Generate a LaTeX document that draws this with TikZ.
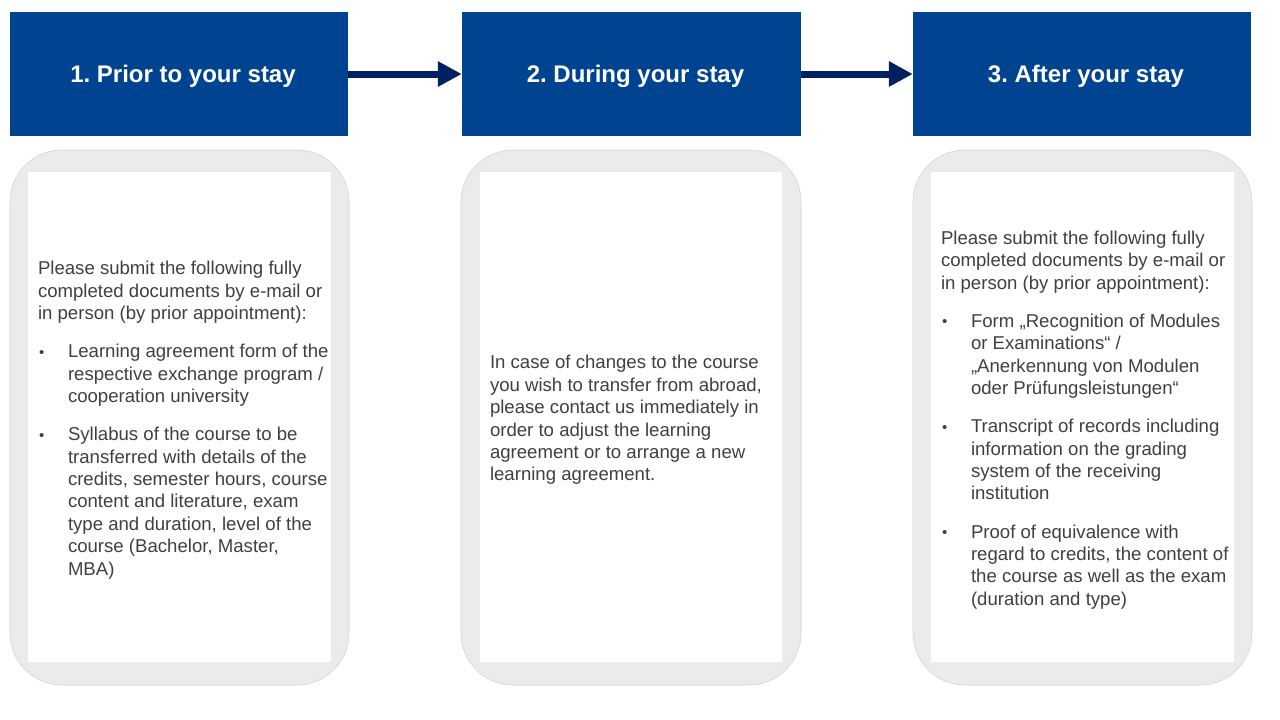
\documentclass[tikz,border=0pt]{standalone}
\usepackage{fontspec}
\setmainfont{Liberation Sans}
\usetikzlibrary{arrows.meta}
\definecolor{hdrblue}{RGB}{0,67,145}
\definecolor{navy}{RGB}{0,32,96}
\definecolor{panelgrey}{RGB}{237,235,233}
\definecolor{panelline}{RGB}{214,212,210}
\definecolor{bodygrey}{RGB}{64,64,64}
\frenchspacing
\newcommand{\bitem}[1]{{\hangindent=30pt\hangafter=1\noindent\makebox[30pt][l]{\hspace{1pt}\raisebox{0.5pt}{\fontsize{15}{15}\selectfont •}}#1\par}}
\newcommand{\pgap}{\vspace{15.8pt}}
\begin{document}
\begin{tikzpicture}[x=1pt,y=-1pt,
  hdr/.style={fill=hdrblue, inner sep=0, minimum height=124pt},
  hdrtext/.style={text=white, font=\fontsize{24}{28}\selectfont\bfseries, inner sep=0},
  panel/.style={fill=panelgrey, draw=panelline, line width=0.6pt, rounded corners=52pt, inner sep=0, minimum height=535pt},
  sheet/.style={fill=white, inner sep=0, minimum height=490pt},
  body/.style={anchor=west, inner sep=0, text=bodygrey, font=\fontsize{18.6}{22.4}\selectfont},
  flow/.style={draw=navy, line width=7pt, -{Triangle[length=24pt,width=24pt]}}]
\useasboundingbox[fill=white] (0,0) rectangle (1280,720);

% headers
\node[hdr, minimum width=338pt] (h1) at (179,74) {};
\node[hdr, minimum width=339pt] (h2) at (631.5,74) {};
\node[hdr, minimum width=338pt] (h3) at (1082,74) {};
\node[hdrtext] (l1) at ([xshift=4pt,yshift=-2pt]h1.center) {1. Prior to your stay};
\node[hdrtext] (l2) at ([xshift=4pt,yshift=-2pt]h2.center) {2. During your stay};
\node[hdrtext] (l3) at ([xshift=4pt,yshift=-2pt]h3.center) {3. After your stay};

\draw[flow] (h1.east) -- (h2.west);
\draw[flow] (h2.east) -- (h3.west);

% panels
\node[panel, minimum width=339pt] (p1) at (179.5,417.5) {};
\node[panel, minimum width=340pt] (p2) at (631,417.5) {};
\node[panel, minimum width=339pt] (p3) at (1082.5,417.5) {};

\node[sheet, minimum width=303pt] (s1) at (179.5,417) {};
\node[sheet, minimum width=302pt] (s2) at (631,417) {};
\node[sheet, minimum width=303pt] (s3) at (1082.5,417) {};

% texts
\node[body] (b1) at ([xshift=10pt,yshift=-3pt]s1.west) {\begin{minipage}{400pt}\parindent=0pt
Please submit the following fully\\
completed documents by e-mail or\\
in person (by prior appointment):\par
\pgap
\bitem{Learning agreement form of the\\respective exchange program /\\cooperation university}
\pgap
\bitem{Syllabus of the course to be\\transferred with details of the\\credits, semester hours, course\\content and literature, exam\\type and duration, level of the\\course (Bachelor, Master,\\MBA)}
\end{minipage}};

\node[body] (b2) at ([xshift=10pt,yshift=-3pt]s2.west) {\begin{minipage}{400pt}\parindent=0pt
In case of changes to the course\\
you wish to transfer from abroad,\\
please contact us immediately in\\
order to adjust the learning\\
agreement or to arrange a new\\
learning agreement.\par
\end{minipage}};

\node[body] (b3) at ([xshift=10pt,yshift=-3pt]s3.west) {\begin{minipage}{400pt}\parindent=0pt
Please submit the following fully\\
completed documents by e-mail or\\
in person (by prior appointment):\par
\pgap
\bitem{Form „Recognition of Modules\\or Examinations“ /\\„Anerkennung von Modulen\\oder Prüfungsleistungen“}
\pgap
\bitem{Transcript of records including\\information on the grading\\system of the receiving\\institution}
\pgap
\bitem{Proof of equivalence with\\regard to credits, the content of\\the course as well as the exam\\(duration and type)}
\end{minipage}};
\end{tikzpicture}
\end{document}
